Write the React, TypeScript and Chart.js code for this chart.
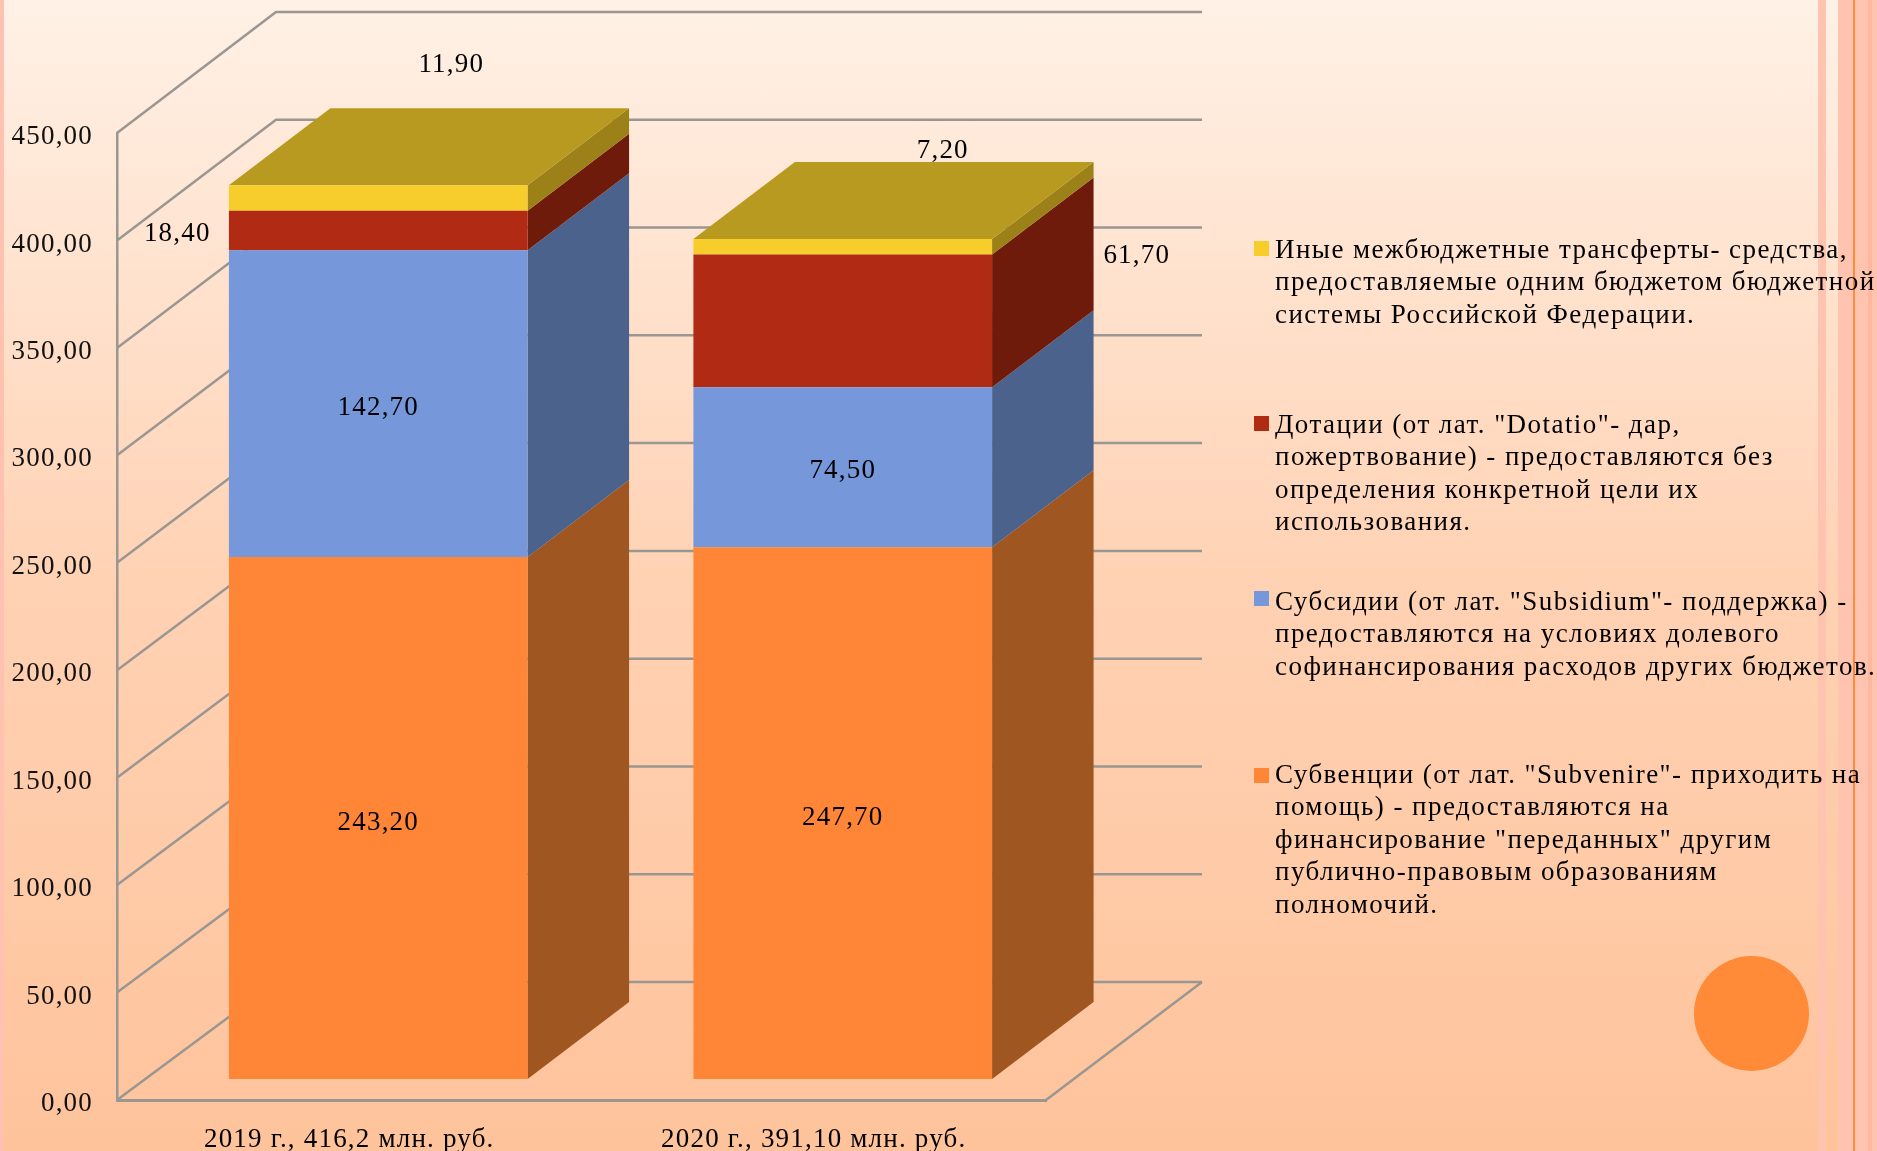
import React, { useEffect, useRef } from "react";
import { Chart, registerables } from "chart.js";

Chart.register(...registerables);

const categories = ["2019 г., 416,2 млн. руб.", "2020 г., 391,10 млн. руб."];
const subventions = [243.2, 247.7];
const subsidies = [142.7, 74.5];
const grants = [18.4, 61.7];
const otherTransfers = [11.9, 7.2];
const yTicks = [0, 50, 100, 150, 200, 250, 300, 350, 400, 450];

const legendYellow = [
  "Иные межбюджетные трансферты- средства,",
  "предоставляемые одним бюджетом бюджетной",
  "системы Российской Федерации.",
];
const legendRed = [
  'Дотации (от лат. "Dotatio"- дар,',
  "пожертвование) - предоставляются без",
  "определения конкретной цели их",
  "использования.",
];
const legendBlue = [
  'Субсидии (от лат. "Subsidium"- поддержка) -',
  "предоставляются на условиях долевого",
  "софинансирования расходов других бюджетов.",
];
const legendOrange = [
  'Субвенции (от лат. "Subvenire"- приходить на',
  'помощь) - предоставляются на',
  'финансирование "переданных" другим',
  "публично-правовым образованиям",
  "полномочий.",
];

const FONT = '"Liberation Serif", "Times New Roman", serif';
const SPACING = 1.2;
const LEGEND_SPACING = 1.45;
const GREY = "#9a9692";

const fmt = (v: number) => v.toFixed(2).replace(".", ",");

const faces = [
  { side: "#a05620", top: "#a05620" },
  { side: "#4b628c", top: "#4b628c" },
  { side: "#6f1b0b", top: "#6f1b0b" },
  { side: "#9c8018", top: "#b89a20" },
];
const labelOffsets = [
  [[0, 5], [0, 5]],
  [[0, 4], [0, 4]],
  [[-201, 3], [294, -65]],
  [[73, -133], [100, -96]],
];

const SHIFT = { x: 29, y: -20.5 }; // front plane of the bars inside the 3D box
const BAR_DEPTH = { x: 101.5, y: -77 };

const box3d = {
  id: "box3d",
  beforeDraw(chart: any) {
    const { ctx } = chart;
    ctx.letterSpacing = SPACING + "px";
    const y = chart.scales.y;
    if (!y.__shifted) {
      const draw = y.drawLabels.bind(y);
      y.drawLabels = (area: any) => {
        ctx.save();
        ctx.translate(0, 4);
        draw(area);
        ctx.restore();
      };
      y.__shifted = true;
    }
  },
  beforeDatasetsDraw(chart: any) {
    const { ctx, chartArea: a, scales } = chart;
    const y = scales.y;
    ctx.save();
    ctx.strokeStyle = GREY;
    ctx.lineWidth = 2.5;
    ctx.lineJoin = "round";
    for (const t of yTicks) {
      const py = y.getPixelForValue(t);
      const backY = py - 118 - (3 * t) / 450;
      ctx.beginPath();
      ctx.moveTo(a.left, py);
      ctx.lineTo(a.left + 159, backY);
      ctx.lineTo(a.right + 156, backY);
      ctx.stroke();
    }
    ctx.beginPath();
    ctx.moveTo(a.right, a.bottom);
    ctx.lineTo(a.right + 156, a.bottom - 118);
    ctx.stroke();
    ctx.restore();

    ctx.save();
    ctx.translate(SHIFT.x, SHIFT.y);
    chart.data.datasets.forEach((_: any, di: number) => {
      chart.getDatasetMeta(di).data.forEach((bar: any) => {
        const r = bar.x + bar.width / 2;
        ctx.fillStyle = faces[di].side;
        ctx.beginPath();
        ctx.moveTo(r, bar.base);
        ctx.lineTo(r + BAR_DEPTH.x, bar.base + BAR_DEPTH.y);
        ctx.lineTo(r + BAR_DEPTH.x, bar.y + BAR_DEPTH.y);
        ctx.lineTo(r, bar.y);
        ctx.closePath();
        ctx.fill();
        if (di === chart.data.datasets.length - 1) {
          const l = bar.x - bar.width / 2;
          ctx.fillStyle = faces[di].top;
          ctx.beginPath();
          ctx.moveTo(l, bar.y);
          ctx.lineTo(l + BAR_DEPTH.x, bar.y + BAR_DEPTH.y);
          ctx.lineTo(r + BAR_DEPTH.x, bar.y + BAR_DEPTH.y);
          ctx.lineTo(r, bar.y);
          ctx.closePath();
          ctx.fill();
        }
      });
    });
  },
  afterDatasetsDraw(chart: any) {
    const { ctx } = chart;
    ctx.restore();
    ctx.save();
    ctx.font = `27px ${FONT}`;
    ctx.fillStyle = "#000";
    ctx.textAlign = "center";
    ctx.textBaseline = "middle";
    chart.data.datasets.forEach((ds: any, di: number) => {
      chart.getDatasetMeta(di).data.forEach((bar: any, ci: number) => {
        const [dx, dy] = labelOffsets[di][ci];
        ctx.fillText(
          fmt(ds.data[ci]),
          bar.x + SHIFT.x + dx,
          (bar.y + bar.base) / 2 + SHIFT.y + dy
        );
      });
    });
    ctx.restore();
  },
};

const legendItems = [
  { lines: legendYellow, color: "#f6cd2a", swatchTop: 241, textTop: 233 },
  { lines: legendRed, color: "#b12b14", swatchTop: 416, textTop: 408 },
  { lines: legendBlue, color: "#7697da", swatchTop: 591, textTop: 585 },
  { lines: legendOrange, color: "#ff8636", swatchTop: 768, textTop: 758 },
];

const stripes = [
  { left: 0, width: 4, color: "#ffc2b0" },
  { left: 1818, width: 8, color: "#fec4b0" },
  { left: 1838, width: 15, color: "#fec4b0" },
  { left: 1853, width: 2, color: "#ff8a3c" },
  { left: 1855, width: 13, color: "#fec4b0" },
  { left: 1868, width: 4, color: "#ffb8a0" },
  { left: 1872, width: 5, color: "#fec4b0" },
];

export default function App() {
  const ref = useRef<HTMLCanvasElement>(null);
  useEffect(() => {
    const colors = ["#ff8636", "#7697da", "#b12b14", "#f6cd2a"];
    const series = [subventions, subsidies, grants, otherTransfers];
    const names = ["Субвенции", "Субсидии", "Дотации", "Иные межбюджетные трансферты"];
    const chart = new Chart(ref.current as HTMLCanvasElement, {
      type: "bar",
      data: {
        labels: categories,
        datasets: series.map((data, i) => ({
          label: names[i],
          data,
          backgroundColor: colors[i],
          borderWidth: 0,
          barPercentage: 1,
          categoryPercentage: 0.643,
          clip: false as any,
        })),
      },
      options: {
        responsive: false,
        animation: false,
        layout: { padding: { top: 133, right: 831, left: 0, bottom: 0 } },
        plugins: { legend: { display: false }, tooltip: { enabled: false } },
        scales: {
          x: {
            stacked: true,
            afterFit: (s: any) => { s.height = 51; },
            grid: { display: true, drawOnChartArea: false, drawTicks: false },
            border: { display: true, color: GREY, width: 3 },
            ticks: { color: "#000", padding: 24, maxRotation: 0, font: { family: FONT, size: 27 } },
          },
          y: {
            stacked: true,
            min: 0,
            max: 450,
            afterFit: (s: any) => { s.width = 117; },
            afterBuildTicks: (s: any) => { s.ticks = yTicks.map((value) => ({ value })); },
            grid: { display: true, drawOnChartArea: false, drawTicks: false },
            border: { display: true, color: GREY, width: 2.5 },
            ticks: {
              color: "#111",
              padding: 24,
              font: { family: FONT, size: 27 },
              callback: (v: any) => fmt(Number(v)),
            },
          },
        },
      },
      plugins: [box3d],
    } as any);
    return () => chart.destroy();
  }, []);

  return (
    <div
      style={{
        position: "absolute",
        left: 0,
        top: 0,
        width: 1877,
        height: 1151,
        overflow: "hidden",
        background: "linear-gradient(to bottom, #fff1e6 0%, #ffd2b4 50%, #fec39b 100%)",
      }}
    >
      {stripes.map((s, i) => (
        <div
          key={i}
          style={{ position: "absolute", left: s.left, top: 0, width: s.width, height: 1151, background: s.color }}
        />
      ))}
      <div
        style={{
          position: "absolute",
          left: 1694,
          top: 956,
          width: 115,
          height: 115,
          borderRadius: "50%",
          background: "#ff8a38",
        }}
      />
      <canvas ref={ref} width={1877} height={1151} style={{ position: "absolute", left: 0, top: 0 }} />
      {legendItems.map((it, i) => (
        <React.Fragment key={i}>
          <div
            style={{ position: "absolute", left: 1254, top: it.swatchTop, width: 15, height: 15, background: it.color }}
          />
          <div
            style={{
              position: "absolute",
              left: 1275,
              top: it.textTop,
              fontFamily: FONT,
              fontSize: 27,
              lineHeight: "32.4px",
              letterSpacing: LEGEND_SPACING + "px",
              color: "#000",
              whiteSpace: "nowrap",
            }}
          >
            {it.lines.map((l, j) => (
              <div key={j}>{l}</div>
            ))}
          </div>
        </React.Fragment>
      ))}
    </div>
  );
}
